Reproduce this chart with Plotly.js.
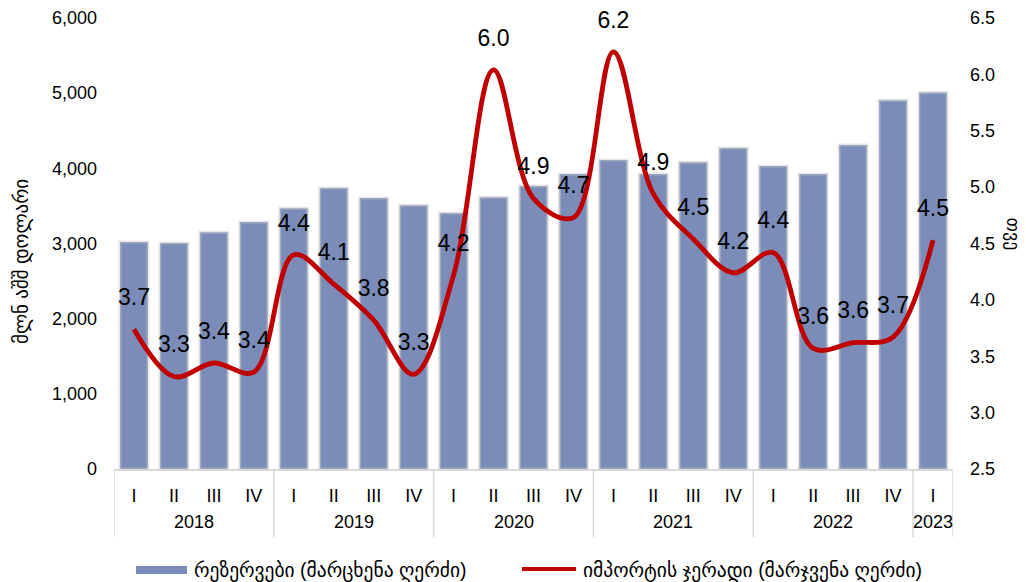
<!DOCTYPE html>
<html>
<head>
<meta charset="utf-8">
<script src="https://cdn.plot.ly/plotly-3.0.1.min.js"></script>
<style>
  html, body { margin: 0; padding: 0; background: #fff; }
  #chart { width: 1026px; height: 582px; }
</style>
</head>
<body>
<div id="chart"></div>
<script>
// Category labels
const years = ['2018','2018','2018','2018','2019','2019','2019','2019','2020','2020','2020','2020',
               '2021','2021','2021','2021','2022','2022','2022','2022','2023'];
const quarters = ['I','II','III','IV','I','II','III','IV','I','II','III','IV',
                  'I','II','III','IV','I','II','III','IV','I'];

// Reserves, million USD (left axis)
const reserves = [3020, 3005, 3150, 3285, 3470, 3740, 3605, 3510, 3405, 3615, 3765, 3925,
                  4110, 3925, 4080, 4270, 4030, 3925, 4310, 4905, 5010];

// Import cover, months (right axis)
const importCover = [3.74, 3.32, 3.44, 3.36, 4.40, 4.14, 3.82, 3.34, 4.22, 6.04, 4.90, 4.73,
                     6.20, 4.94, 4.54, 4.24, 4.42, 3.57, 3.62, 3.67, 4.53];

const leftTitle = 'მლნ აშშ დოლარი';
const rightTitle = 'თვე';
const barName = 'რეზერვები (მარცხენა ღერძი)';
const lineName = 'იმპორტის ჯერადი (მარჯვენა ღერძი)';

const FONT = 'Liberation Sans, Arial, DejaVu Sans, sans-serif';
const BAR_COLOR = '#7a8cb7';
const LINE_COLOR = '#c00000';
const DIV_COLOR = '#d9d9d9';

const idx = quarters.map((q, i) => i);

// group years -> first/last index
const groups = [];
years.forEach((y, i) => {
  const g = groups[groups.length - 1];
  if (g && g.year === y) g.last = i; else groups.push({ year: y, first: i, last: i });
});

const traces = [
  {
    type: 'bar',
    x: idx,
    y: reserves,
    name: barName,
    marker: { color: BAR_COLOR, line: { color: 'rgba(200,200,200,0.45)', width: 3 } },
    yaxis: 'y',
    hoverinfo: 'y'
  },
  {
    type: 'scatter',
    mode: 'lines+markers+text',
    x: idx,
    y: importCover,
    name: lineName,
    yaxis: 'y2',
    line: { color: LINE_COLOR, width: 4.8, shape: 'spline', smoothing: 1 },
    marker: { size: 28, color: 'rgba(0,0,0,0)' },
    text: importCover.map(v => (Math.round(v * 10 - 1e-9) / 10).toFixed(1)),
    textposition: 'top center',
    textfont: { family: FONT, size: 23, color: '#000' },
    cliponaxis: false,
    hoverinfo: 'y'
  }
];

const annotations = [
  { xref: 'paper', yref: 'paper', x: -0.1097, y: 0.461, text: leftTitle, textangle: -90,
    showarrow: false, xanchor: 'center', yanchor: 'middle', font: { family: FONT, size: 19, color: '#000' } },
  { xref: 'paper', yref: 'paper', x: 1.0715, y: 0.52, text: rightTitle, textangle: 90,
    showarrow: false, xanchor: 'center', yanchor: 'middle', font: { family: FONT, size: 18, color: '#000' } },
  { xref: 'paper', yref: 'paper', x: 0.093, y: -0.224, text: barName,
    showarrow: false, xanchor: 'left', yanchor: 'middle', font: { family: FONT, size: 19.5, color: '#000' } },
  { xref: 'paper', yref: 'paper', x: 0.5566, y: -0.224, text: lineName,
    showarrow: false, xanchor: 'left', yanchor: 'middle', font: { family: FONT, size: 19.5, color: '#000' } }
];
groups.forEach(g => {
  annotations.push({ xref: 'x', yref: 'paper', x: (g.first + g.last) / 2, y: -0.1175, text: g.year,
    showarrow: false, xanchor: 'center', yanchor: 'middle', font: { family: FONT, size: 18, color: '#000' } });
});

const shapes = [
  { type: 'rect', xref: 'paper', yref: 'paper', x0: 0.0262, x1: 0.0870, y0: -0.2328, y1: -0.2151,
    fillcolor: BAR_COLOR, line: { width: 0 } },
  { type: 'line', xref: 'paper', yref: 'paper', x0: 0.4863, x1: 0.5507, y0: -0.2217, y1: -0.2217,
    line: { color: LINE_COLOR, width: 4 } }
];
const bounds = groups.map(g => g.first - 0.5).concat([groups[groups.length - 1].last + 0.5]);
bounds.forEach(b => {
  shapes.push({ type: 'line', xref: 'x', yref: 'paper', x0: b, x1: b, y0: 0, y1: -0.1508,
    line: { color: DIV_COLOR, width: 1.5 } });
});

const layout = {
  width: 1026,
  height: 582,
  margin: { l: 114, r: 73, t: 18, b: 113 },
  paper_bgcolor: '#ffffff',
  plot_bgcolor: '#ffffff',
  font: { family: FONT, size: 18, color: '#000' },
  showlegend: false,
  bargap: 0.3,
  xaxis: {
    range: [-0.5, quarters.length - 0.5],
    tickmode: 'array',
    tickvals: idx,
    ticktext: quarters,
    showgrid: false,
    zeroline: false,
    showline: true,
    linecolor: DIV_COLOR,
    linewidth: 1.5,
    ticks: '',
    ticklabelstandoff: 10,
    tickfont: { family: FONT, size: 18, color: '#000' }
  },
  yaxis: {
    range: [0, 6000],
    dtick: 1000,
    tickformat: ',d',
    showgrid: false,
    zeroline: false,
    showline: false,
    ticks: '',
    ticklabelstandoff: 16,
    tickfont: { family: FONT, size: 18, color: '#000' }
  },
  yaxis2: {
    overlaying: 'y',
    side: 'right',
    range: [2.5, 6.5],
    dtick: 0.5,
    tickformat: '.1f',
    showgrid: false,
    zeroline: false,
    showline: false,
    ticks: '',
    ticklabelstandoff: 16,
    tickfont: { family: FONT, size: 18, color: '#000' }
  },
  annotations: annotations,
  shapes: shapes
};

Plotly.newPlot('chart', traces, layout, { staticPlot: true, displayModeBar: false });
</script>
</body>
</html>
